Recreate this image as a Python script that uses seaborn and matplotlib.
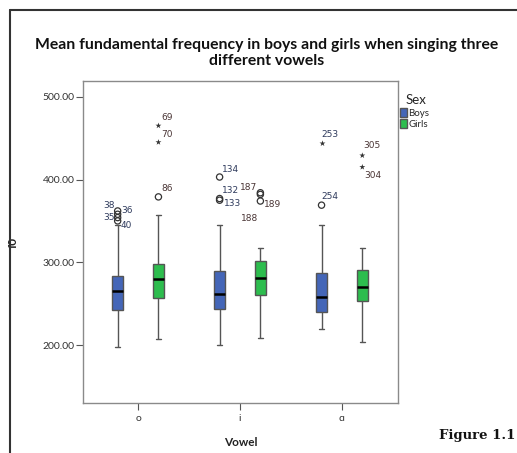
import matplotlib
matplotlib.use("Agg")
import matplotlib.pyplot as plt
from matplotlib.lines import Line2D
import seaborn as sns
import pandas as pd

# ---- data ----
vowels = ["o", "i", "ɑ"]
sexes = ["Boys", "Girls"]
# box summaries: [lower whisker, Q1, median, Q3, upper whisker]
boys_o = [198, 242, 265, 284, 345]
girls_o = [207, 257, 280, 298, 357]
boys_i = [200, 243, 262, 289, 345]
girls_i = [208, 260, 281, 302, 317]
boys_a = [220, 240, 258, 287, 345]
girls_a = [204, 253, 270, 291, 317]

# outliers
out_vowel = ["o", "o", "o", "o", "o", "o", "o", "i", "i", "i", "i", "i", "i", "ɑ", "ɑ", "ɑ", "ɑ"]
out_sex = ["Boys", "Boys", "Boys", "Boys", "Girls", "Girls", "Girls", "Boys", "Boys", "Boys",
           "Girls", "Girls", "Girls", "Boys", "Boys", "Girls", "Girls"]
out_value = [362, 358, 354, 350, 465, 445, 379, 403, 377, 375, 384, 382, 374, 444, 369, 429, 415]
out_kind = ["o", "o", "o", "o", "*", "*", "o", "o", "o", "o", "o", "o", "o", "*", "o", "*", "*"]
out_label = ["38", "36", "35", "40", "69", "70", "86", "134", "132", "133", "187", "188", "189",
             "253", "254", "305", "304"]

# ---- build tables ----
box_rows = []
for v, b, g in zip(vowels, [boys_o, boys_i, boys_a], [girls_o, girls_i, girls_a]):
    for val in b:
        box_rows.append({"Vowel": v, "Sex": "Boys", "f0": val})
    for val in g:
        box_rows.append({"Vowel": v, "Sex": "Girls", "f0": val})
box_df = pd.DataFrame(box_rows)
out_df = pd.DataFrame({"Vowel": out_vowel, "Sex": out_sex, "f0": out_value,
                       "kind": out_kind, "label": out_label})

sns.set_style("white")
plt.rcParams["font.family"] = ["Lato", "DejaVu Sans"]

W, H = 517, 453
fig = plt.figure(figsize=(W / 100, H / 100), dpi=100)
ax = fig.add_axes([83 / W, 1 - 403 / H, 315 / W, 322 / H])

palette = {"Boys": "#4466b8", "Girls": "#2dbd4e"}
sns.boxplot(data=box_df, x="Vowel", y="f0", hue="Sex", order=vowels, hue_order=sexes,
            palette=palette, whis=(0, 100), width=0.8, gap=0.73, linewidth=1.0,
            linecolor="#555555", saturation=1,
            medianprops={"color": "black", "linewidth": 1.8},
            whiskerprops={"color": "#555555", "linewidth": 1.0},
            capprops={"color": "#555555", "linewidth": 1.0},
            ax=ax)

# outliers
circ = out_df[out_df["kind"] == "o"]
star = out_df[out_df["kind"] == "*"]
n0 = len(ax.collections)
sns.stripplot(data=circ, x="Vowel", y="f0", hue="Sex", order=vowels, hue_order=sexes,
              dodge=True, jitter=False, palette={"Boys": "white", "Girls": "white"},
              marker="o", size=4.5, linewidth=0.9, edgecolor="#333333", legend=False, ax=ax)
for c in ax.collections[n0:]:
    c.set_facecolor("none")
    c.set_edgecolor("#333333")
sns.stripplot(data=star, x="Vowel", y="f0", hue="Sex", order=vowels, hue_order=sexes,
              dodge=True, jitter=False, palette={"Boys": "#333333", "Girls": "#333333"},
              marker="*", size=4.5, linewidth=0, legend=False, ax=ax)

# labels for outliers (offsets in pixels)
offsets = {
    "38": (-3, 5, "right"), "36": (4, 4, "left"), "35": (-3, 0, "right"), "40": (3, -5, "left"),
    "69": (3, 8, "left"), "70": (3, 8, "left"), "86": (3, 8, "left"),
    "134": (2, 8, "left"), "132": (2, 8, "left"), "133": (4, -3, "left"),
    "187": (-3, 5, "right"), "188": (-2, -24, "right"), "189": (4, -3, "left"),
    "253": (0, 9, "left"), "254": (0, 9, "left"), "305": (1, 10, "left"), "304": (2, -8, "left"),
}
for _, r in out_df.iterrows():
    xi = vowels.index(r["Vowel"]) + (-0.2 if r["Sex"] == "Boys" else 0.2)
    dx, dy, ha = offsets[r["label"]]
    col = "#2e3a5c" if r["Sex"] == "Boys" else "#4a3535"
    ax.annotate(r["label"], (xi, r["f0"]), xytext=(dx, dy), textcoords="offset pixels",
                ha=ha, va="center", fontsize=6.5, color=col, family="DejaVu Sans")

ax.set_ylim(130, 519)
ax.set_xlim(-0.54, 2.55)
ax.set_yticks([200, 300, 400, 500])
ax.set_yticklabels(["200.00", "300.00", "400.00", "500.00"])
ax.tick_params(axis="both", which="both", direction="out", length=5, width=0.8,
               color="#555555", labelsize=7.5, labelcolor="#333333", left=True, bottom=True, pad=1)
ax.tick_params(axis="x", labelsize=7.5, pad=3)
for s in ax.spines.values():
    s.set_color("#8a8a8a")
    s.set_linewidth(1.0)

ax.set_xlabel("Vowel", fontsize=8.5, fontweight="bold", color="#222222")
ax.xaxis.set_label_coords(0.5, -(437 - 403) / 322)
ax.set_ylabel("f0", fontsize=8.5, fontweight="bold", color="#222222")
ax.yaxis.set_label_coords(-(83 - 19) / 315, 0.5)

# legend
sns.move_legend(ax, "upper left", bbox_to_anchor=(1.005, 0.96), frameon=False, title="Sex",
                fontsize=7, title_fontsize=9.5, handlelength=0.8, handleheight=1.0,
                handletextpad=0.1, borderpad=0, borderaxespad=0, labelspacing=0.2,
                alignment="left")
ax.get_legend().get_title().set_position((6, 0))

fig.text(267 / W, 1 - 53 / H,
         "Mean fundamental frequency in boys and girls when singing three\ndifferent vowels",
         ha="center", va="center", fontsize=11.3, fontweight="bold", linespacing=1.15,
         color="#111111")

# outer frame
fig.add_artist(Line2D([10 / W, 10 / W], [0, 1 - 10 / H], transform=fig.transFigure,
                      color="#333333", linewidth=1.5))
fig.add_artist(Line2D([10 / W, 1], [1 - 10 / H, 1 - 10 / H], transform=fig.transFigure,
                      color="#333333", linewidth=1.5))

fig.text(515 / W, 1 - 436 / H, "Figure 1.1", ha="right", va="center", fontsize=9.5,
         fontweight="bold", family="DejaVu Serif", color="#111111")

fig.savefig("out.png", dpi=100)
